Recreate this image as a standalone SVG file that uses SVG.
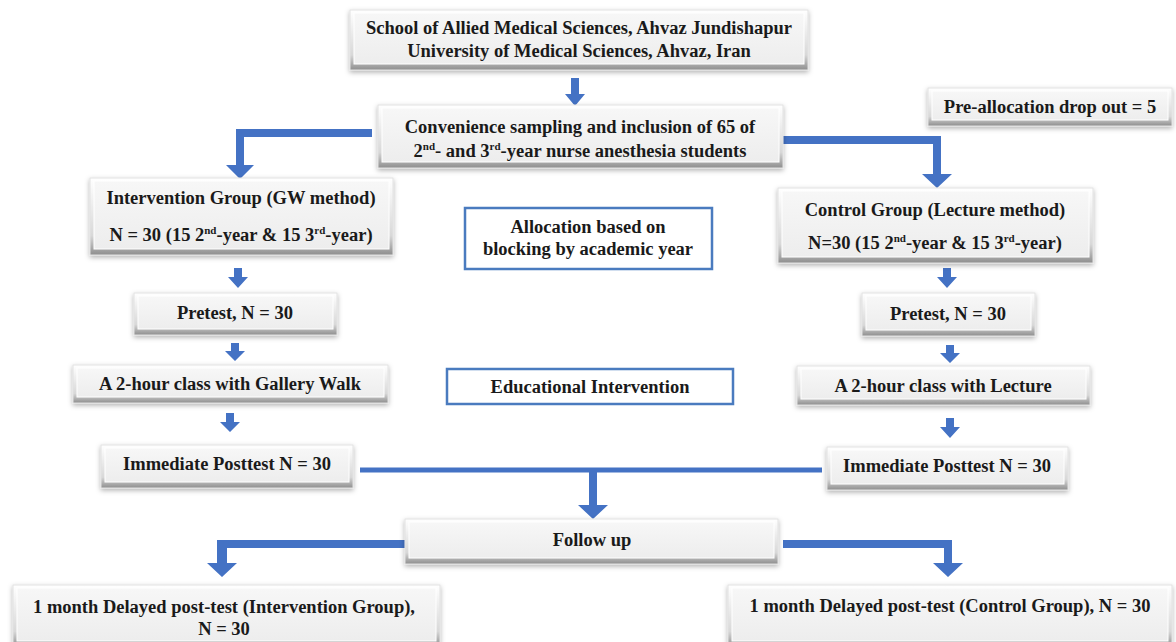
<svg xmlns="http://www.w3.org/2000/svg" width="1176" height="642" viewBox="0 0 1176 642">
<defs>
<linearGradient id="bev" x1="0" y1="0" x2="0" y2="1">
<stop offset="0" stop-color="#ffffff"/>
<stop offset="0.75" stop-color="#d8d8d8"/>
<stop offset="1" stop-color="#8e8e8e"/>
</linearGradient>
<linearGradient id="face" x1="0" y1="0" x2="0" y2="1">
<stop offset="0" stop-color="#f7f7f7"/>
<stop offset="1" stop-color="#ededed"/>
</linearGradient>
<filter id="sh" x="-10%" y="-20%" width="120%" height="150%">
<feDropShadow dx="0" dy="2" stdDeviation="2.5" flood-color="#000" flood-opacity="0.3"/>
</filter>
</defs>
<style>
.bx{fill:url(#bev);stroke:#e2e2e2;stroke-width:1;filter:url(#sh)}
.fc{fill:url(#face);stroke:#ffffff;stroke-width:1}
.bl{fill:#ffffff;stroke:#4a7bbf;stroke-width:2.5}
.t{font-family:"Liberation Serif","Times New Roman",serif;font-weight:bold;font-size:18.5px;fill:#1a1a1a;text-anchor:middle}
.sup{font-size:11px}
.ar{fill:#4472C4}
</style>
<rect width="1176" height="642" fill="#ffffff"/>

<g id="connectors">
<path class="ar" d="M571,78 H579 V94 H585 L575,106 L565,94 H571 Z"/>
<path class="ar" d="M372,129 H236 V165 H226 L240,179 L254,165 H244 V137 H372 Z"/>
<path class="ar" d="M783,136 H941 V174 H952 L937,188 L922,174 H933 V144 H783 Z"/>
<path class="ar" d="M234,268 H242 V277 H248 L238,288 L228,277 H234 Z"/>
<path class="ar" d="M943,268 H951 V277 H957 L947,288 L937,277 H943 Z"/>
<path class="ar" d="M231,343 H239 V351 H245 L235,361 L225,351 H231 Z"/>
<path class="ar" d="M946,345 H954 V353 H960 L950,363 L940,353 H946 Z"/>
<path class="ar" d="M226,413 H234 V422 H240 L230,432 L220,422 H226 Z"/>
<path class="ar" d="M946,418 H954 V427 H960 L950,438 L940,427 H946 Z"/>
<path class="ar" d="M360,467.5 H822 V472.5 H597 V505 H608 L593,519 L578,505 H589 V472.5 H360 Z"/>
<path class="ar" d="M405,540 H217 V563 H207 L222,577 L237,563 H227 V548 H405 Z"/>
<path class="ar" d="M783,540 H952 V563 H963 L948,577 L933,563 H944 V548 H783 Z"/>
</g>

<g id="school">
<rect class="bx" x="350" y="10" width="458" height="60"/>
<rect class="fc" x="354" y="13" width="450" height="51"/>
<text class="t" x="579" y="34">School of Allied Medical Sciences, Ahvaz Jundishapur</text>
<text class="t" x="579" y="57">University of Medical Sciences, Ahvaz, Iran</text>
</g>

<g id="sampling">
<rect class="bx" x="378" y="105" width="405" height="63"/>
<rect class="fc" x="382" y="108" width="397" height="54"/>
<text class="t" x="580" y="133">Convenience sampling and inclusion of 65 of</text>
<text class="t" x="580" y="157">2<tspan class="sup" dy="-7">nd</tspan><tspan dy="7">- and 3</tspan><tspan class="sup" dy="-7">rd</tspan><tspan dy="7">-year nurse anesthesia students</tspan></text>
</g>

<g id="dropout">
<rect class="bx" x="928" y="88" width="244" height="38"/>
<rect class="fc" x="932" y="91" width="236" height="29"/>
<text class="t" x="1050" y="113">Pre-allocation drop out = 5</text>
</g>

<g id="intervention">
<rect class="bx" x="90" y="178" width="303" height="77"/>
<rect class="fc" x="94" y="181" width="295" height="68"/>
<text class="t" x="241" y="204">Intervention Group (GW method)</text>
<text class="t" x="241" y="241">N = 30 (15 2<tspan class="sup" dy="-7">nd</tspan><tspan dy="7">-year &amp; 15 3</tspan><tspan class="sup" dy="-7">rd</tspan><tspan dy="7">-year)</tspan></text>
</g>

<g id="allocation">
<rect class="bl" x="465" y="208" width="247" height="61"/>
<text class="t" x="588" y="233">Allocation based on</text>
<text class="t" x="588" y="255">blocking by academic year</text>
</g>

<g id="control">
<rect class="bx" x="778" y="188" width="315" height="75"/>
<rect class="fc" x="782" y="191" width="307" height="66"/>
<text class="t" x="935" y="216">Control Group (Lecture method)</text>
<text class="t" x="935" y="249">N=30 (15 2<tspan class="sup" dy="-7">nd</tspan><tspan dy="7">-year &amp; 15 3</tspan><tspan class="sup" dy="-7">rd</tspan><tspan dy="7">-year)</tspan></text>
</g>

<g id="pretest-left">
<rect class="bx" x="134" y="293" width="203" height="42"/>
<rect class="fc" x="138" y="296" width="195" height="33"/>
<text class="t" x="235" y="319">Pretest, N = 30</text>
</g>

<g id="pretest-right">
<rect class="bx" x="862" y="293" width="173" height="43"/>
<rect class="fc" x="866" y="296" width="165" height="34"/>
<text class="t" x="948" y="320">Pretest, N = 30</text>
</g>

<g id="class-gw">
<rect class="bx" x="73" y="365" width="315" height="38"/>
<rect class="fc" x="77" y="368" width="307" height="29"/>
<text class="t" x="230" y="390">A 2-hour class with Gallery Walk</text>
</g>

<g id="educational">
<rect class="bl" x="447" y="369" width="286" height="35"/>
<text class="t" x="590" y="393">Educational Intervention</text>
</g>

<g id="class-lecture">
<rect class="bx" x="797" y="366" width="293" height="39"/>
<rect class="fc" x="801" y="369" width="285" height="30"/>
<text class="t" x="943" y="392">A 2-hour class with Lecture</text>
</g>

<g id="posttest-left">
<rect class="bx" x="101" y="445" width="252" height="43"/>
<rect class="fc" x="105" y="448" width="244" height="34"/>
<text class="t" x="227" y="470">Immediate Posttest N = 30</text>
</g>

<g id="posttest-right">
<rect class="bx" x="827" y="447" width="241" height="43"/>
<rect class="fc" x="831" y="450" width="233" height="34"/>
<text class="t" x="947" y="472">Immediate Posttest N = 30</text>
</g>

<g id="followup">
<rect class="bx" x="405" y="519" width="373" height="45"/>
<rect class="fc" x="409" y="522" width="365" height="36"/>
<text class="t" x="592" y="546">Follow up</text>
</g>

<g id="delayed-left">
<rect class="bx" x="13" y="585" width="427" height="62"/>
<rect class="fc" x="17" y="588" width="419" height="53"/>
<text class="t" x="224" y="613">1 month Delayed post-test (Intervention Group),</text>
<text class="t" x="224" y="635">N = 30</text>
</g>

<g id="delayed-right">
<rect class="bx" x="728" y="585" width="444" height="62"/>
<rect class="fc" x="732" y="588" width="436" height="53"/>
<text class="t" x="950" y="612">1 month Delayed post-test (Control Group), N = 30</text>
</g>
</svg>
